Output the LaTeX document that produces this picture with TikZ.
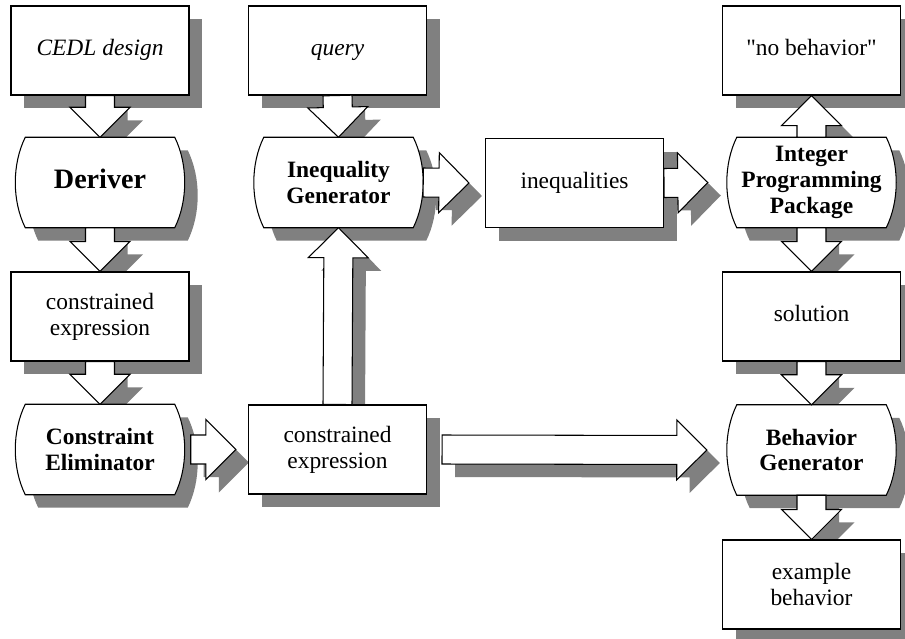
\documentclass[tikz,border=0pt]{standalone}
\usepackage{fontspec}
\newfontfamily\timesf{Liberation Serif}
\usepackage{tikz}
\usetikzlibrary{calc, shadows}
\definecolor{shadegray}{gray}{0.5}

\pgfdeclarelayer{shadow}
\pgfdeclarelayer{procbg}
\pgfsetlayers{shadow,procbg,main}

\newcommand\shw{0.435cm}
\newcommand\hhw{0.9cm}
\newcommand\hlen{0.9cm}

\newcommand\arrowpath[2]{let \p1=(#1), \p2=(#2), \p3=($(\p2)!\hlen!(\p1)$) in
  ($(\p1)!\shw!90:(\p2)$) -- ($(\p3)!\shw!90:(\p2)$) -- ($(\p3)!\hhw!90:(\p2)$) -- (\p2)
  -- ($(\p3)!\hhw!-90:(\p2)$) -- ($(\p3)!\shw!-90:(\p2)$) -- ($(\p1)!\shw!-90:(\p2)$) -- cycle}
\newcommand\flowarr[2]{%
  \begin{pgfonlayer}{shadow}
    \fill[shadegray, transform canvas={shift={(13,13)}}] \arrowpath{#1}{#2};
  \end{pgfonlayer}
  \draw[blockarr] \arrowpath{#1}{#2};}

\newcommand\procpath[1]{([shift={(10,0)}]#1.north west) -- ([shift={(-10,0)}]#1.north east)
  .. controls +(13.3,27) and +(13.3,-27) .. ([shift={(-10,0)}]#1.south east)
  -- ([shift={(10,0)}]#1.south west)
  .. controls +(-13.3,-27) and +(-13.3,27) .. ([shift={(10,0)}]#1.north west) -- cycle}
\newcommand\procshape[1]{%
  \begin{pgfonlayer}{shadow}
    \fill[shadegray, transform canvas={shift={(13,13)}}] \procpath{#1};
  \end{pgfonlayer}
  \begin{pgfonlayer}{procbg}
    \draw[procline] \procpath{#1};
  \end{pgfonlayer}}

\begin{document}
\begin{tikzpicture}[x=0.03cm, y=-0.03cm,
	databox/.style={rectangle, draw=black, line width=0.9pt, fill=white, align=center,
	                minimum width=5.34cm, minimum height=2.67cm, inner sep=0pt,
	                font=\timesf\fontsize{20}{22}\selectfont,
	                drop shadow={opacity=1, fill=shadegray, shadow xshift=0.39cm, shadow yshift=-0.39cm}},
	proc/.style={rectangle, align=center, minimum width=5.07cm, minimum height=2.7cm, inner sep=0pt,
	             font=\timesf\bfseries\fontsize{20}{22}\selectfont},
	procline/.style={draw=black, line width=0.9pt, fill=white},
	blockarr/.style={draw=black, line width=0.9pt, fill=white, line join=miter}
	]
\useasboundingbox (0,0) rectangle (905,638);

\node[databox] (cedl) at (100,50.5) {\itshape CEDL design\strut};
\node[proc, font=\timesf\bfseries\fontsize{24}{26}\selectfont] (deriver) at (100,182.5) {Deriver\strut};
\node[databox] (cexpa) at (100,316.5) {constrained\\expression};
\node[proc] (celim) at (100,449.5) {Constraint\\Eliminator};

\node[databox] (query) at (337.5,50.5) {\itshape query\strut};
\node[proc] (ineqgen) at (338.5,182.5) {Inequality\\Generator};
\node[databox] (cexpb) at (337.5,449.5) {constrained\\expression};

\node[databox] (ineqs) at (574.5,183) {inequalities\strut};

\node[databox] (nobeh) at (811.5,50.5) {"no behavior"\strut};
\node[proc] (ipp) at (811.5,182.5) {Integer\\Programming\\Package};
\node[databox] (sol) at (811.5,316.5) {solution\strut};
\node[proc] (behgen) at (811.5,450) {Behavior\\Generator};
\node[databox] (exbeh) at (811.5,584.5) {example\\behavior};

\foreach \p in {deriver,celim,ineqgen,ipp,behgen} {\procshape{\p}}

\flowarr{cedl.south}{deriver.north}
\flowarr{deriver.south}{cexpa.north}
\flowarr{cexpa.south}{celim.north}
\flowarr{query.south}{ineqgen.north}
\flowarr{cexpb.north}{ineqgen.south}
\flowarr{ipp.north}{nobeh.south}
\flowarr{ipp.south}{sol.north}
\flowarr{sol.south}{behgen.north}
\flowarr{behgen.south}{exbeh.north}
\flowarr{[shift={(6,0)}]celim.east}{[shift={(-12,0)}]cexpb.west}
\flowarr{ineqgen.east}{[shift={(-16,0)}]ineqs.west}
\flowarr{ineqs.east}{[shift={(-19,0)}]ipp.west}
\flowarr{[shift={(15,0)}]cexpb.east}{[shift={(-20,0)}]behgen.west}
\end{tikzpicture}
\end{document}
